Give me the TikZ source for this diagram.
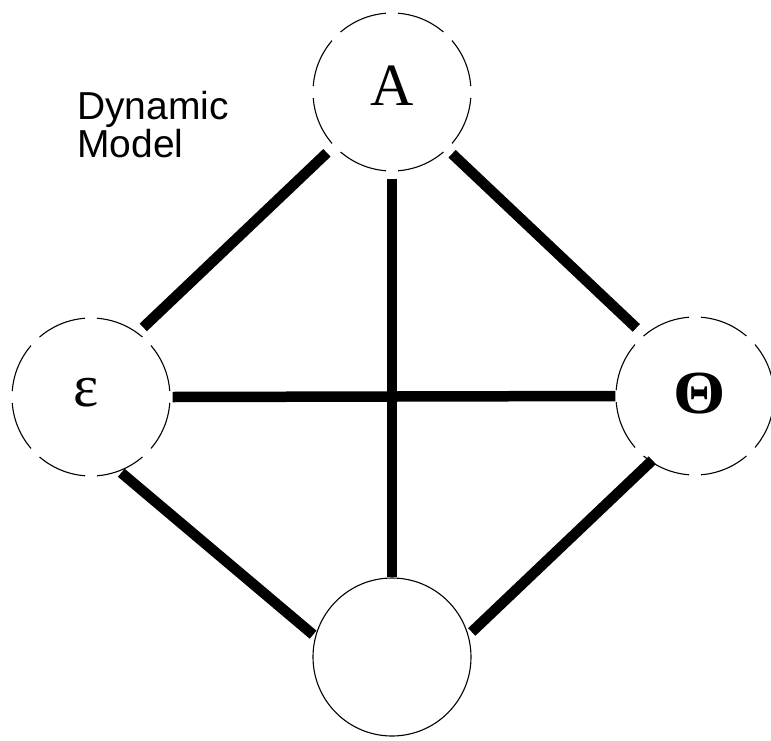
\documentclass[tikz,border=0pt]{standalone}
\usepackage{fontspec}
\setmainfont{Liberation Serif}
\newfontfamily\labelsans{Liberation Sans}
\begin{document}
\begin{tikzpicture}[x=1pt,y=-1pt,
  vert/.style={circle, minimum size=158pt, inner sep=0pt, line width=1.1pt},
  dashvert/.style={vert, draw, dash pattern=on 50pt off 12.05pt, dash phase=56pt},
  solidvert/.style={vert, draw},
  edge/.style={line width=10.5pt, line cap=butt},
  lbl/.style={inner sep=0pt, anchor=base, font=\fontsize{60}{60}\selectfont}]
\useasboundingbox (0,0) rectangle (771,740);
\node[dashvert] (A) at (392,92) {};
\node[dashvert] (E) at (91,397) {};
\node[dashvert] (T) at (695,396) {};
\node[solidvert] (B) at (392,657) {};
\node[lbl] (la) at (392,105) {A};
\node[lbl] (le) at (86,406) {ε};
\node[lbl] (lt) at (700,413) {\bfseries\scalebox{1.12}[1.02]{Θ}};
\node[inner sep=0pt, anchor=base west, align=left,
  font=\labelsans\fontsize{39}{38}\selectfont] (dm) at (77,157) {Dynamic\\Model};
\draw[edge, shorten <=9.5pt, shorten >=7.6pt] (A.223) -- (E.54);
\draw[edge, shorten <=6.6pt, shorten >=10.4pt] (A.314.5) -- (T.130.5);
\draw[edge, shorten <=7pt] (A.270) -- (B.90);
\draw[edge, shorten <=2pt] (E.0) -- (T.180);
\draw[edge, shorten <=2.3pt, shorten >=2.7pt] (E.-69) -- (B.165);
\draw[edge, shorten <=-2.5pt, shorten >=4.5pt] (T.236.7) -- (B.16.7);
\end{tikzpicture}
\end{document}
